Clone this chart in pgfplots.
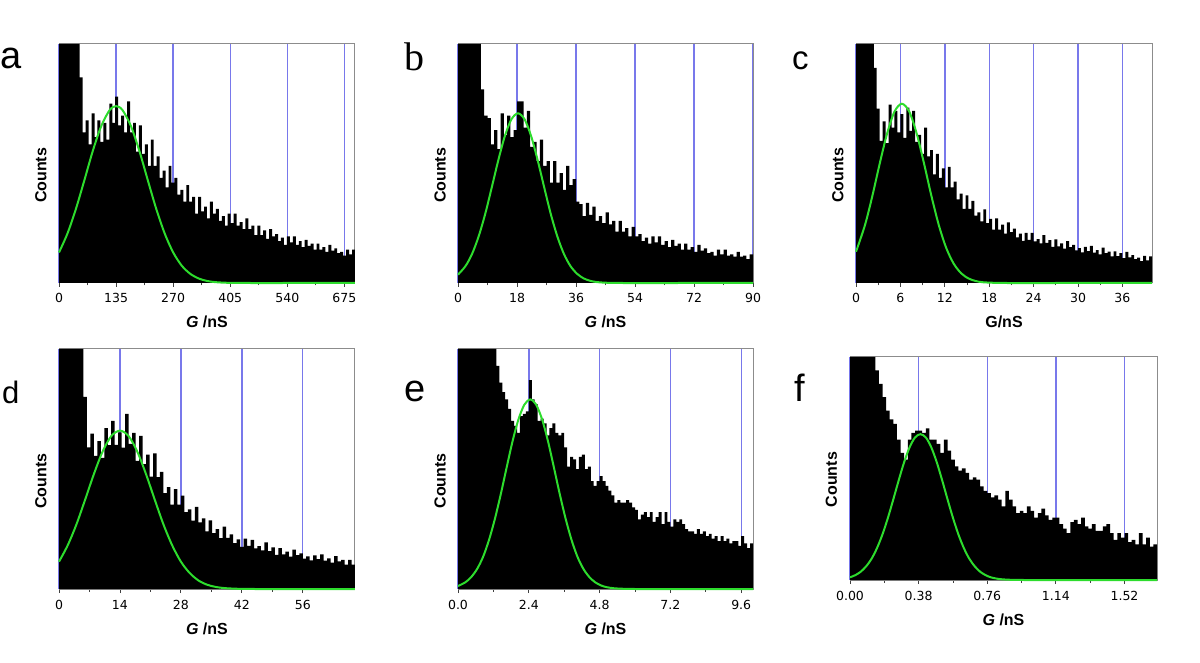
\documentclass[border=0pt]{standalone}
\usepackage{fontspec}
\setmainfont{Liberation Sans}
\newfontfamily\tickfont{DejaVu Sans}
\newfontfamily\seriffont{Liberation Serif}
\usepackage{pgfplots}
\pgfplotsset{compat=1.18}
\definecolor{gridblue}{RGB}{120,120,235}
\definecolor{fitgreen}{RGB}{45,220,45}
\definecolor{framegray}{RGB}{140,140,140}
\pgfplotsset{
 panel/.style={
  scale only axis, anchor=south west, clip=false,
  ymin=0, ymax=100, ytick=\empty,
  axis line style={draw=framegray, line width=1pt},
  xtick pos=left, tick align=outside,
  major tick length=4pt, minor tick length=2.5pt, minor x tick num=1,
  every tick/.style={black!75, line width=0.8pt},
  xmajorgrids, major grid style={gridblue, line width=1.4pt},
  xticklabel style={font=\tickfont\fontsize{12.5}{14}\selectfont, anchor=base, yshift=-16pt},
  xlabel style={font=\fontsize{16}{18}\selectfont\bfseries, at={(axis description cs:0.5,0)}, anchor=base, yshift=-45pt},
  ylabel={Counts},
  ylabel style={font=\fontsize{16}{18}\selectfont\bfseries, at={(axis description cs:-0.061,0.45)}, anchor=center},
 },
 hist/.style={fill=black, draw=none, const plot},
 fit/.style={fitgreen, line width=2pt, smooth, no marks},
}
\begin{document}
\begin{tikzpicture}
\path[use as bounding box] (0pt,0pt) rectangle (1200pt,662pt);
% ---------------- a ----------------
\begin{axis}[panel, at={(59pt,379pt)}, width=296pt, height=239pt,
  xmin=0, xmax=700, xtick={0,135,270,405,540,675}, xticklabels={0,135,270,405,540,675},
  xlabel={\textit{G} /nS}]
\addplot[hist] coordinates {(0,100)(7,100)(14,100)(21,100)(28,100)(35,100)(42,100)
(49,86)(56,63)(63,68)(70,58)(77,71)(84,61)(91,68)(98,59)(105,67)(112,60)(119,75)(126,67)(133,78)(140,66)(147,70)(154,63)(161,76)(168,63)(175,67)(182,55)(189,66)(196,54)(203,58)(210,49)(217,60)(224,49)(231,53)(238,44)(245,47)(252,40)(259,49)(266,42)(273,44)(280,37)(287,39)(294,34)(301,41)(308,34)(315,36)(322,29)(329,36)(336,30)(343,32)(350,27)(357,34)(364,29)(371,31)(378,26)(385,28)(392,24)(399,29)(406,25)(413,29)(420,24)(427,25.5)(434,22.5)(441,27)(448,22.5)(455,24)(462,20)(469,24)(476,20)(483,22)(490,18.5)(497,22.5)(504,19.5)(511,20.5)(518,17.5)(525,19)(532,16)(539,19.5)(546,17)(553,19.5)(560,16)(567,17.5)(574,15)(581,18)(588,15.5)(595,16.5)(602,14)(609,16.5)(616,14)(623,15)(630,13)(637,16)(644,13.5)(651,14.5)(658,12.5)(665,13)(672,11.5)(679,14)(686,12)(693,14)(700,14)} \closedcycle;
\addplot[fit] coordinates {(0,12.8)(20,20.7)(40,31.0)(60,43.0)(80,55.3)(100,65.7)(120,72.4)(135,74)(150,72.4)(170,65.7)(190,55.3)(210,43.0)(230,31.0)(250,20.7)(270,12.8)(290,7.3)(310,3.9)(330,1.9)(350,0.86)(370,0.36)(400,0.08)(450,0)(550,0)(700,0)};
\end{axis}
% ---------------- b ----------------
\begin{axis}[panel, at={(458pt,379pt)}, width=295pt, height=239pt,
  xmin=0, xmax=90, xtick={0,18,36,54,72,90}, xticklabels={0,18,36,54,72,90},
  xlabel={\textit{G} /nS}]
\addplot[hist] coordinates {(0,100)(1,100)(2,100)(3,100)(4,100)(5,100)(6,100)(7,81)(8,70)(9,69)(10,58)(11,64)(12,56)(13,71)(14,62)(15,70)(16,61)(17,64)(18,76)(19,76)(20,65)(21,72)(22,57)(23,59)(24,51)(25,60)(26,49)(27,51)(28,42)(29,51)(30,42)(31,46)(32,39)(33,49)(34,41)(35,43.5)(36,34)(37,33)(38,28)(39,33.5)(40,28.5)(41,32)(42,26)(43,28)(44,25)(45,29.5)(46,24.5)(47,26)(48,21.5)(49,26)(50,21.5)(51,23)(52,19.5)(53,23.5)(54,19.5)(55,20.5)(56,17.5)(57,19)(58,16.5)(59,19.5)(60,17)(61,19.5)(62,16)(63,17.5)(64,15)(65,18)(66,15.5)(67,16.5)(68,14)(69,16.5)(70,14)(71,15)(72,13)(73,16)(74,13.5)(75,14.5)(76,12.5)(77,13)(78,11.5)(79,14)(80,12)(81,14)(82,11.5)(83,12)(84,11)(85,13)(86,11)(87,11.5)(88,10)(89,12)(90,12)} \closedcycle;
\addplot[fit] coordinates {(0,3.5)(2.3,7.1)(4.3,12.2)(6.3,19.5)(8.3,28.9)(10.3,40.0)(12.3,51.4)(14.3,61.5)(16.3,68.5)(18.3,71)(20.3,68.5)(22.3,61.5)(24.3,51.4)(26.3,40.0)(28.3,28.9)(30.3,19.5)(32.3,12.2)(34.3,7.1)(36.3,3.9)(38.3,1.95)(40.3,0.92)(42.3,0.4)(45,0.12)(50,0)(70,0)(90,0)};
\end{axis}
% ---------------- c ----------------
\begin{axis}[panel, at={(856pt,379pt)}, width=296pt, height=239pt,
  xmin=0, xmax=40, xtick={0,6,12,18,24,30,36}, xticklabels={0,6,12,18,24,30,36},
  xlabel={G/nS}]
\addplot[hist] coordinates {(0,100)(0.4,100)(0.8,100)(1.2,100)(1.6,100)(2.0,100)(2.4,90)(2.8,73)(3.2,59.5)(3.6,67.6)(4.0,58.5)(4.4,74.6)(4.8,65)(5.2,72)(5.6,63)(6.0,70.7)(6.4,60.7)(6.8,73.4)(7.2,63.6)(7.6,72)(8.0,59)(8.4,62)(8.8,54)(9.2,65)(9.6,53)(10.0,55.6)(10.4,45.4)(10.8,54)(11.2,44)(11.6,48)(12.0,40)(12.4,48.6)(12.8,40)(13.2,42.4)(13.6,35)(14.0,37.4)(14.4,31)(14.8,36.7)(15.2,31)(15.6,34.4)(16.0,28.2)(16.4,29.6)(16.8,25.8)(17.2,30.8)(17.6,25)(18.0,26.8)(18.4,22.3)(18.8,27)(19.2,22.3)(19.6,24.4)(20.0,20.7)(20.4,25.4)(20.8,21.3)(21.2,22.8)(21.6,19.1)(22.0,20.7)(22.4,17.6)(22.8,21)(23.2,18)(23.6,21)(24.0,17.4)(24.4,18.4)(24.8,16.6)(25.2,20)(25.6,16.8)(26.0,17.9)(26.4,15.1)(26.8,18.2)(27.2,15.3)(27.6,16.6)(28.0,14.4)(28.4,17.5)(28.8,15)(29.2,15.9)(29.6,13.7)(30.0,14.6)(30.4,12.8)(30.8,15.1)(31.2,13.3)(31.6,15.5)(32.0,12.7)(32.4,13.8)(32.8,12)(33.2,14.8)(33.6,12.5)(34.0,13.1)(34.4,11.1)(34.8,13.2)(35.2,11.2)(35.6,12.5)(36.0,10.4)(36.4,13)(36.8,10.7)(37.2,11.7)(37.6,10)(38.0,10.6)(38.4,9.2)(38.8,11.3)(39.2,9.5)(39.6,11.1)(40,11.1)} \closedcycle;
\addplot[fit] coordinates {(0,13.1)(1.2,24.1)(2.2,36.3)(3.2,49.9)(4.2,62.5)(5.2,71.7)(6.2,75)(7.2,71.7)(8.2,62.5)(9.2,49.9)(10.2,36.3)(11.2,24.1)(12.2,14.6)(13.2,8.1)(14.2,4.1)(15.2,1.9)(16.2,0.8)(17.2,0.3)(19,0.04)(20,0)(30,0)(40,0)};
\end{axis}
% ---------------- d ----------------
\begin{axis}[panel, at={(59pt,73pt)}, width=296pt, height=240pt,
  xmin=0, xmax=68, xtick={0,14,28,42,56}, xticklabels={0,14,28,42,56},
  xlabel={\textit{G} /nS}]
\addplot[hist] coordinates {(0,100)(0.8,100)(1.6,100)(2.4,100)(3.2,100)(4.0,100)(4.8,100)(5.6,80)(6.4,59)(7.2,64.7)(8.0,55.5)(8.8,61.6)(9.6,54.6)(10.4,67)(11.2,59.9)(12.0,70)(12.8,60)(13.6,65.3)(14.4,58.9)(15.2,73)(16.0,60.5)(16.8,65)(17.6,53.4)(18.4,63.8)(19.2,52)(20.0,56)(20.8,46.8)(21.6,56.5)(22.4,46.6)(23.2,48.8)(24.0,40)(24.8,42.4)(25.6,35.2)(26.4,41.6)(27.2,35.2)(28.0,38.9)(28.8,32)(29.6,33.2)(30.4,28.5)(31.2,34.2)(32.0,27.8)(32.8,29.4)(33.6,24)(34.4,28.6)(35.2,23.3)(36.0,25)(36.8,21.2)(37.6,26)(38.4,21.3)(39.2,22.8)(40.0,19.1)(40.8,20.7)(41.6,17.6)(42.4,21)(43.2,18)(44.0,20.5)(44.8,16.9)(45.6,17.9)(46.4,16.1)(47.2,19.4)(48.0,15.8)(48.8,17.3)(49.6,14.2)(50.4,17)(51.2,14.4)(52.0,15.6)(52.8,13.5)(53.6,16.4)(54.4,14.1)(55.2,14.8)(56.0,12.7)(56.8,13.6)(57.6,11.9)(58.4,14)(59.2,12.4)(60.0,14.4)(60.8,11.8)(61.6,12.8)(62.4,11)(63.2,13.7)(64.0,11.5)(64.8,12.1)(65.6,10.2)(66.4,12.1)(67.2,10.2)(68,10.2)} \closedcycle;
\addplot[fit] coordinates {(0,11.4)(2,18.2)(4,26.9)(6,37.2)(8,47.8)(10,57.2)(12,63.7)(14,66)(16,63.7)(18,57.2)(20,47.8)(22,37.2)(24,26.9)(26,18.2)(28,11.4)(30,6.7)(32,3.6)(34,1.8)(36,0.86)(38,0.38)(41,0.1)(45,0)(55,0)(68,0)};
\end{axis}
% ---------------- e ----------------
\begin{axis}[panel, at={(458pt,73pt)}, width=295pt, height=240pt,
  xmin=0, xmax=10, xtick={0,2.4,4.8,7.2,9.6}, xticklabels={0.0,2.4,4.8,7.2,9.6},
  xlabel={\textit{G} /nS}]
\addplot[hist] coordinates {(0,100)(0.1,100)(0.2,100)(0.3,100)(0.4,100)(0.5,100)(0.6,100)(0.7,100)(0.8,100)(0.9,100)(1.0,100)(1.1,100)(1.2,100)(1.3,93)(1.4,86)(1.5,82)(1.6,79)(1.7,75)(1.8,70)(1.9,68)(2.0,65)(2.1,72)(2.2,73)(2.3,74)(2.4,87)(2.5,79)(2.6,77)(2.7,70)(2.8,71)(2.9,69)(3.0,64)(3.1,67)(3.2,69)(3.3,65)(3.4,64)(3.5,65)(3.6,59)(3.7,51)(3.8,55)(3.9,54)(4.0,50)(4.1,55)(4.2,56)(4.3,50)(4.4,51)(4.5,45)(4.6,43)(4.7,45)(4.8,47)(4.9,45)(5.0,43)(5.1,41)(5.2,39)(5.3,36)(5.4,37)(5.5,36)(5.6,36)(5.7,37)(5.8,36)(5.9,34)(6.0,33)(6.1,29)(6.2,31)(6.3,32)(6.4,30)(6.5,32)(6.6,28)(6.7,30)(6.8,32)(6.9,27)(7.0,32)(7.1,28)(7.2,26)(7.3,29)(7.4,28)(7.5,29)(7.6,27)(7.7,25)(7.8,24)(7.9,24)(8.0,23)(8.1,25)(8.2,23)(8.3,24)(8.4,22)(8.5,23)(8.6,21)(8.7,22)(8.8,20)(8.9,22)(9.0,20)(9.1,21)(9.2,19)(9.3,20)(9.4,20)(9.5,18)(9.6,22)(9.7,19)(9.8,17)(9.9,19)(10,19)} \closedcycle;
\addplot[fit] coordinates {(0,1.24)(0.25,2.8)(0.45,5.0)(0.65,8.4)(0.85,13.4)(1.05,20.4)(1.25,29.2)(1.45,39.5)(1.65,50.7)(1.85,61.6)(2.05,70.7)(2.25,76.8)(2.45,79)(2.65,76.8)(2.85,70.7)(3.05,61.6)(3.25,50.7)(3.45,39.5)(3.65,29.2)(3.85,20.4)(4.05,13.4)(4.25,8.4)(4.45,5.0)(4.65,2.8)(4.85,1.47)(5.05,0.73)(5.3,0.29)(5.7,0.05)(6,0)(8,0)(10,0)};
\end{axis}
% ---------------- f ----------------
\begin{axis}[panel, at={(850pt,82pt)}, width=307pt, height=223pt,
  xmin=0, xmax=1.7, xtick={0,0.38,0.76,1.14,1.52}, xticklabels={0.00,0.38,0.76,1.14,1.52},
  xlabel={\textit{G} /nS}]
\addplot[hist] coordinates {(0,100)(0.02,100)(0.04,100)(0.06,100)(0.08,100)(0.10,100)(0.12,100)(0.14,94)(0.16,88)(0.18,82)(0.20,76)(0.22,72)(0.24,70)(0.26,63)(0.28,57)(0.30,54)(0.32,63)(0.34,66)(0.36,67)(0.38,67)(0.40,66)(0.42,68)(0.44,63)(0.46,63)(0.48,61)(0.50,57)(0.52,63)(0.54,58)(0.56,54)(0.58,51)(0.60,49)(0.62,50)(0.64,48)(0.66,45)(0.68,46)(0.70,45)(0.72,42)(0.74,40)(0.76,39)(0.78,37)(0.80,38)(0.82,36)(0.84,33)(0.86,40)(0.88,36)(0.90,33)(0.92,30)(0.94,31)(0.96,30)(0.98,33)(1.00,31)(1.02,28)(1.04,30)(1.06,32)(1.08,29)(1.10,27)(1.12,28)(1.14,28)(1.16,25)(1.18,23)(1.20,21)(1.22,26)(1.24,27)(1.26,25)(1.28,28)(1.30,24)(1.32,23)(1.34,25)(1.36,22)(1.38,22)(1.40,24)(1.42,25)(1.44,21)(1.46,18)(1.48,21)(1.50,19)(1.52,21)(1.54,17)(1.56,18)(1.58,16)(1.60,21)(1.62,16)(1.64,19)(1.66,15)(1.68,16)(1.70,16)} \closedcycle;
\addplot[fit] coordinates {(0,1.2)(0.03,2.2)(0.06,3.75)(0.09,6.2)(0.12,9.6)(0.15,14.4)(0.18,20.5)(0.21,27.9)(0.24,36.2)(0.27,44.8)(0.30,52.9)(0.33,59.5)(0.36,63.9)(0.39,65.4)(0.42,63.9)(0.45,59.5)(0.48,52.9)(0.51,44.8)(0.54,36.2)(0.57,27.9)(0.60,20.5)(0.63,14.4)(0.66,9.6)(0.69,6.2)(0.72,3.75)(0.75,2.2)(0.78,1.2)(0.82,0.51)(0.87,0.15)(0.95,0.01)(1.0,0)(1.3,0)(1.7,0)};
\end{axis}
% panel letters
\node[anchor=base west, inner sep=0pt, font=\fontsize{38}{40}\selectfont] at (0pt,593pt) {a};
\node[anchor=base west, inner sep=0pt, font=\seriffont\fontsize{40}{42}\selectfont] at (404pt,591pt) {b};
\node[anchor=base west, inner sep=0pt, font=\fontsize{33}{35}\selectfont] at (792pt,592pt) {c};
\node[anchor=base west, inner sep=0pt, font=\fontsize{31}{33}\selectfont] at (2pt,258pt) {d};
\node[anchor=base west, inner sep=0pt, font=\fontsize{38}{40}\selectfont] at (404pt,260pt) {e};
\node[anchor=base west, inner sep=0pt, font=\fontsize{38}{40}\selectfont] at (794pt,260pt) {f};
\end{tikzpicture}
\end{document}
